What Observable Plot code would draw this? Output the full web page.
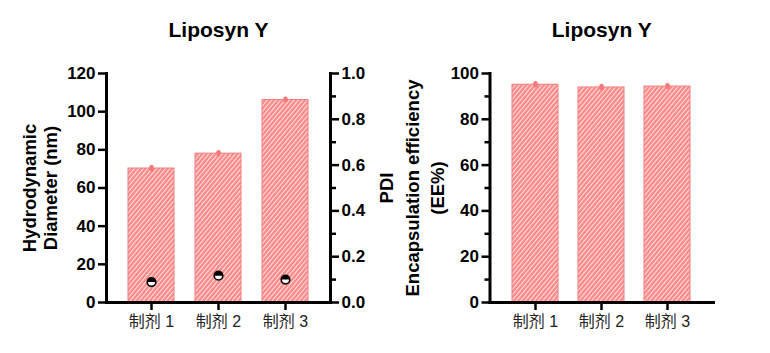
<!DOCTYPE html>
<html><head><meta charset="utf-8">
<script src="https://cdn.jsdelivr.net/npm/d3@7"></script>
<script src="https://cdn.jsdelivr.net/npm/@observablehq/plot@0.6"></script>
<style>
body{margin:0;background:#fff;}
#wrap{position:relative;width:770px;height:353px;overflow:hidden;background:#fff;}
#wrap svg{position:absolute;top:0;overflow:visible;}
</style></head><body><div id="wrap"></div>
<script>
const title = "Liposyn Y";
const categories = ["制剂 1", "制剂 2", "制剂 3"];
const diameter = [70.2, 78.0, 106.1];
const diameterSd = [0.5, 0.5, 0.4];
const pdi = [0.089, 0.117, 0.100];
const ee = [95.1, 93.9, 94.3];
const eeSd = [0.4, 0.4, 0.4];
const diameterTicks = [0, 20, 40, 60, 80, 100, 120];
const pdiTicks = [0, 0.2, 0.4, 0.6, 0.8, 1.0];
const pdiMinorTicks = [0.1, 0.3, 0.5, 0.7, 0.9];
const eeTicks = [0, 20, 40, 60, 80, 100];
const eeMinorTicks = [10, 30, 50, 70, 90];
const labelDiameter = "Hydrodynamic\nDiameter (nm)";
const labelPdi = "PDI";
const labelEe = "Encapsulation efficiency\n(EE%)";

const FONT = "'Liberation Sans', Arial, 'Noto Sans CJK SC', sans-serif";
const BAR_FILL = "#ff8a8a";
const BAR_STROKE = "#f27f7f";
const ERR = "#f47a7a";
const DIA_MAX = 120, PDI_MAX = 1.0;
const pdiToY = v => v * DIA_MAX / PDI_MAX;

const rowsA = categories.map((c, i) => ({c, v: diameter[i], sd: diameterSd[i], p: pdi[i]}));
const rowsB = categories.map((c, i) => ({c, v: ee[i], sd: eeSd[i]}));

const halfTop = {draw(ctx, size) {
  const r = Math.sqrt(size / Math.PI);
  ctx.moveTo(r, 0); ctx.arc(0, 0, r, 0, Math.PI, true); ctx.closePath();
}};

function common(opts) {
  return {
    height: 353, marginTop: 73, marginBottom: 51,
    x: {domain: categories, paddingInner: 0.306, paddingOuter: 0.3245, label: null},
    style: {fontFamily: FONT, fontSize: "16px", color: "#000", background: "transparent", overflow: "visible"},
    ...opts
  };
}
const tickStyle = {tickSize: 8, tickPadding: 3, strokeWidth: 2.5, fontWeight: "bold", fontSize: 17, label: null};
const minorStyle = {tickSize: 5, strokeWidth: 2.5, tickFormat: () => "", label: null};
const xAxis = () => Plot.axisX({tickSize: 8, tickPadding: 5, strokeWidth: 2.5, fontSize: 16, fontWeight: "normal", fill: "#222", label: null});
const titleMark = () => Plot.text([title], {frameAnchor: "top", dy: -43, fontSize: 21, fontWeight: "bold", lineAnchor: "middle"});

const left = Plot.plot(common({
  width: 395, marginLeft: 106, marginRight: 65,
  y: {domain: [0, DIA_MAX], label: null},
  marks: [
    Plot.barY(rowsA, {x: "c", y: "v", fill: "url(#hatchA)", stroke: BAR_STROKE, strokeWidth: 1}),
    Plot.ruleX(rowsA, {x: "c", y1: d => d.v - d.sd, y2: d => d.v + d.sd, stroke: ERR, strokeWidth: 4.5, strokeLinecap: "round"}),
    Plot.dot(rowsA, {x: "c", y: d => pdiToY(d.p), r: 4.3, fill: "white", stroke: "black", strokeWidth: 1.6}),
    Plot.dot(rowsA, {x: "c", y: d => pdiToY(d.p), r: 4.3, symbol: halfTop, fill: "black"}),
    Plot.axisY({ticks: diameterTicks, ...tickStyle}),
    Plot.axisY({anchor: "right", ticks: pdiTicks.map(pdiToY), tickFormat: d => (d * PDI_MAX / DIA_MAX).toFixed(1), ...tickStyle}),
    Plot.axisY({anchor: "right", ticks: pdiMinorTicks.map(pdiToY), ...minorStyle}),
    xAxis(),
    Plot.frame({anchor: "left", strokeWidth: 3}),
    Plot.frame({anchor: "right", strokeWidth: 3}),
    Plot.frame({anchor: "bottom", strokeWidth: 3}),
    titleMark(),
    Plot.text([labelDiameter], {frameAnchor: "left", textAnchor: "middle", lineAnchor: "middle", rotate: -90, dx: -66.5, fontSize: 18.5, fontWeight: "bold", lineHeight: 1.1}),
    Plot.text([labelPdi], {frameAnchor: "right", textAnchor: "middle", lineAnchor: "middle", rotate: -90, dx: 57, fontSize: 18.5, fontWeight: "bold"})
  ]
}));

const right = Plot.plot(common({
  width: 375, marginLeft: 94.5, marginRight: 57,
  y: {domain: [0, 100], label: null},
  marks: [
    Plot.barY(rowsB, {x: "c", y: "v", fill: "url(#hatchB)", stroke: BAR_STROKE, strokeWidth: 1}),
    Plot.ruleX(rowsB, {x: "c", y1: d => d.v - d.sd, y2: d => d.v + d.sd, stroke: ERR, strokeWidth: 4.5, strokeLinecap: "round"}),
    Plot.axisY({ticks: eeTicks, ...tickStyle}),
    Plot.axisY({ticks: eeMinorTicks, ...minorStyle}),
    xAxis(),
    Plot.frame({anchor: "left", strokeWidth: 3}),
    Plot.frame({anchor: "bottom", strokeWidth: 3}),
    titleMark(),
    Plot.text([labelEe], {frameAnchor: "left", textAnchor: "middle", lineAnchor: "middle", rotate: -90, dx: -66.5, fontSize: 18.5, fontWeight: "bold", lineHeight: 1.32})
  ]
}));

function addPattern(svg, id) {
  d3.select(svg).insert("defs", ":first-child").html(
    `<pattern id="${id}" patternUnits="userSpaceOnUse" width="3.4" height="3.4" patternTransform="rotate(40)">
       <rect width="3.4" height="3.4" fill="${BAR_FILL}"/>
       <rect width="1" height="3.4" fill="#ffe4e4"/>
     </pattern>`);
}
addPattern(left, "hatchA");
addPattern(right, "hatchB");
left.style.left = "0px";
right.style.left = "395px";
document.getElementById("wrap").append(left, right);
</script>
</body></html>
